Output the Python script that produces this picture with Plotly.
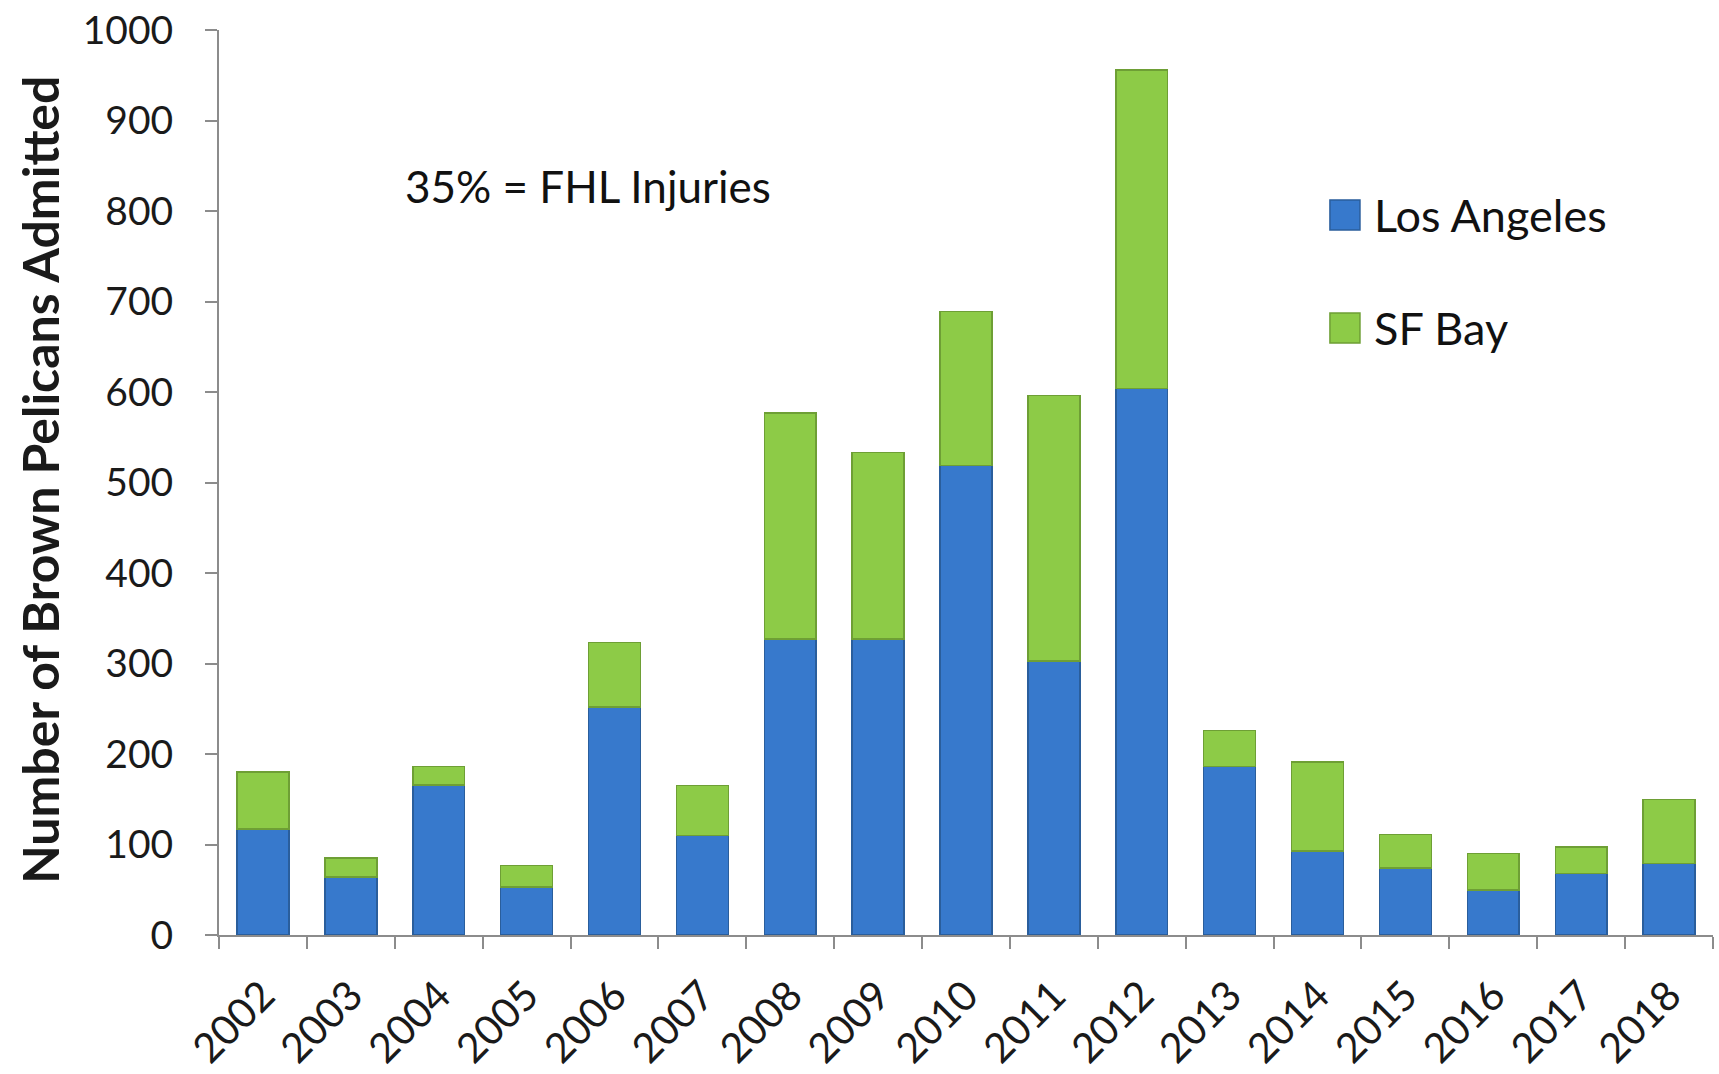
import plotly.graph_objects as go

years = [str(y) for y in range(2002, 2019)]
los_angeles = [117, 64, 166, 53, 252, 110, 327, 327, 519, 303, 604, 186, 93, 74, 50, 68, 79]
sf_bay = [63, 21, 20, 24, 71, 55, 250, 206, 170, 293, 352, 40, 98, 37, 40, 29, 71]
y_ticks = [0, 100, 200, 300, 400, 500, 600, 700, 800, 900, 1000]
series_names = ["Los Angeles", "SF Bay"]

FONT = "Lato, 'Open Sans', sans-serif"
BLUE = "#3779CC"
GREEN = "#8DCB47"
BLUE_EDGE = "#2A5E9C"
GREEN_EDGE = "#6E9F35"

fig = go.Figure()
fig.add_trace(go.Bar(x=years, y=los_angeles, name=series_names[0], showlegend=False,
                     marker=dict(color=BLUE, line=dict(color=BLUE_EDGE, width=1.5))))
fig.add_trace(go.Bar(x=years, y=sf_bay, name=series_names[1], showlegend=False,
                     marker=dict(color=GREEN, line=dict(color=GREEN_EDGE, width=1.5))))

fig.update_layout(
    width=1719, height=1074,
    barmode="stack", bargap=0.41,
    plot_bgcolor="white", paper_bgcolor="white",
    margin=dict(l=219, r=6, t=30, b=139, autoexpand=False),
    font=dict(family=FONT, color="#1a1a1a"),
    showlegend=False,
)
fig.update_xaxes(
    automargin=False,
    showline=True, linecolor="#8c8c8c", linewidth=2,
    ticks="outside", tickson="boundaries", ticklen=12, tickcolor="#8c8c8c", tickwidth=2,
    tickangle=-45, tickfont=dict(size=41, family=FONT, color="#1a1a1a"), ticklabelstandoff=18,
    ticklabeloverflow="allow", showgrid=False,
)
fig.update_yaxes(
    automargin=False,
    range=[0, 1000], tickvals=y_ticks, showline=True, linecolor="#8c8c8c", linewidth=2,
    ticks="outside", ticklen=12, tickcolor="#8c8c8c", tickwidth=2, ticklabelstandoff=24,
    ticklabeloverflow="allow",
    tickfont=dict(size=39, family=FONT, color="#1a1a1a"), showgrid=False, zeroline=False,
)
# y-axis title
fig.add_annotation(x=-0.1198, y=0.503, xref="paper", yref="paper", xanchor="center", yanchor="middle",
                   text="<b>Number of Brown Pelicans Admitted</b>", textangle=-90, showarrow=False,
                   font=dict(size=50, family=FONT, color="#1a1a1a"))
fig.add_annotation(x=0.123, y=0.828, xref="paper", yref="paper", xanchor="left", yanchor="middle",
                   text="35% = FHL Injuries", showarrow=False,
                   font=dict(size=44, family=FONT, color="#111111"))

# legend drawn with large square swatches
legend_rows = [(series_names[0], BLUE, BLUE_EDGE, 0.8122, 0.7790, 0.7956),
               (series_names[1], GREEN, GREEN_EDGE, 0.6873, 0.6541, 0.6707)]
for name, col, edge, y1, y0, yc in legend_rows:
    fig.add_shape(type="rect", xref="paper", yref="paper", x0=0.7436, x1=0.7637, y0=y0, y1=y1,
                  fillcolor=col, line=dict(color=edge, width=1.5))
    fig.add_annotation(x=0.7718, y=yc, xref="paper", yref="paper", xanchor="left", yanchor="middle",
                       text=name, showarrow=False, font=dict(size=45, family=FONT, color="#111111"))

fig.write_html("out.html", config={"displayModeBar": False},
               post_script="document.body.style.margin='0';")
